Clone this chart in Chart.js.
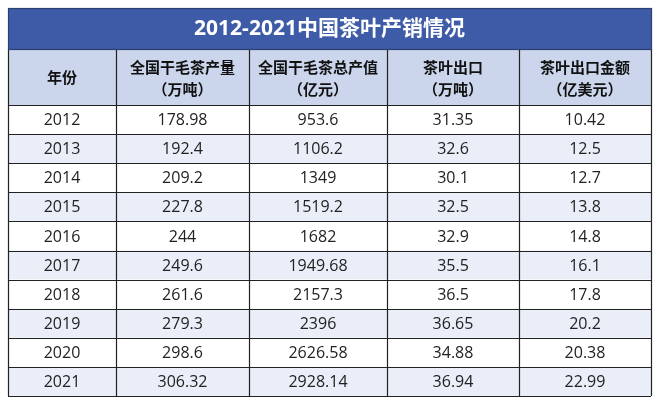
<!DOCTYPE html><html><head><meta charset="utf-8">
<script src="https://cdn.jsdelivr.net/npm/chart.js@4"></script>
<style>html,body{margin:0;padding:0;background:#fff}#w{width:660px;height:404px}</style></head>
<body><div id="w"><canvas id="c"></canvas></div>
<script>
const title = "2012-2021中国茶叶产销情况";
const headers = [["年份"],["全国干毛茶产量","（万吨）"],["全国干毛茶总产值","（亿元）"],["茶叶出口","（万吨）"],["茶叶出口金额","（亿美元）"]];
const years = ["2012","2013","2014","2015","2016","2017","2018","2019","2020","2021"];
const production = ["178.98","192.4","209.2","227.8","244","249.6","261.6","279.3","298.6","306.32"];
const outputValue = ["953.6","1106.2","1349","1519.2","1682","1949.68","2157.3","2396","2626.58","2928.14"];
const exportVolume = ["31.35","32.6","30.1","32.5","32.9","35.5","36.5","36.65","34.88","36.94"];
const exportValue = ["10.42","12.5","12.7","13.8","14.8","16.1","17.8","20.2","20.38","22.99"];

const columns = [years, production, outputValue, exportVolume, exportValue];
const colEdges = [8,116,249,387,519,651];
const tableTop = 8, titleH = 41, headH = 56, rowH = 29.1;

const tablePlugin = {
  id:'table',
  afterDraw(chart){
    const ctx = chart.ctx;
    ctx.save();
    const L = colEdges[0], R = colEdges[colEdges.length-1];
    const hTop = tableTop + titleH, dTop = hTop + headH, bottom = dTop + rowH*years.length;
    ctx.fillStyle = '#3d5ba6';
    ctx.fillRect(L, tableTop, R-L, titleH);
    ctx.fillStyle = '#fff';
    ctx.font = 'bold 21px "Open Sans","Noto Sans CJK SC",sans-serif';
    ctx.textAlign='center'; ctx.textBaseline='middle';
    ctx.fillText(title, (L+R)/2, tableTop+titleH/2+1);
    ctx.fillStyle = '#cbd6ec';
    ctx.fillRect(L, hTop, R-L, headH);
    ctx.fillStyle = '#111';
    ctx.font = 'bold 15px "Noto Sans CJK SC",sans-serif';
    headers.forEach((h,i)=>{
      const cx=(colEdges[i]+colEdges[i+1])/2;
      if(h.length===1) ctx.fillText(h[0],cx,hTop+headH/2);
      else { ctx.fillText(h[0],cx,hTop+headH/2-10); ctx.fillText(h[1],cx,hTop+headH/2+12); }
    });
    ctx.font = '16px "Open Sans","Noto Sans",sans-serif';
    years.forEach((y,r)=>{
      const top = dTop + r*rowH;
      ctx.fillStyle = r%2===1 ? '#eaeef8' : '#ffffff';
      ctx.fillRect(L, top, R-L, rowH);
      ctx.fillStyle = '#222';
      columns.forEach((col,i)=>{
        ctx.fillText(col[r], (colEdges[i]+colEdges[i+1])/2, top+rowH/2+1);
      });
    });
    ctx.strokeStyle='#222'; ctx.lineWidth=1.2;
    ctx.beginPath();
    for(let r=0;r<=years.length;r++){const y=Math.round(dTop+r*rowH)+0.5;ctx.moveTo(L,y);ctx.lineTo(R,y);}
    ctx.moveTo(L,hTop+0.5);ctx.lineTo(R,hTop+0.5);
    colEdges.forEach(x=>{ctx.moveTo(x+0.5,hTop);ctx.lineTo(x+0.5,bottom);});
    ctx.stroke();
    ctx.strokeStyle='#2b3f73';
    ctx.strokeRect(L+0.5,tableTop+0.5,R-L,titleH);
    ctx.restore();
  }
};
new Chart(document.getElementById('c'),{
  type:'bar',
  data:{labels:years,datasets:[{data:[],label:title}]},
  options:{responsive:true,maintainAspectRatio:false,animation:false,
    plugins:{legend:{display:false},tooltip:{enabled:false}},
    scales:{x:{display:false},y:{display:false}}},
  plugins:[tablePlugin]
});
</script></body></html>
